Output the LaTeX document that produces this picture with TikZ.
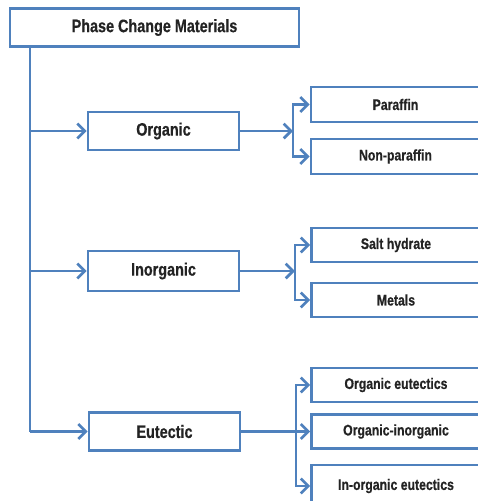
\documentclass[tikz,border=0pt]{standalone}
\usepackage{fontspec}
\newfontfamily\lblfont{Liberation Sans}[FakeStretch=0.8, FakeBold=0.6]
\usetikzlibrary{arrows.meta}
\definecolor{pcmblue}{RGB}{79,129,189}
\definecolor{pcmtext}{RGB}{35,35,35}
\tikzset{
  box/.style={draw=pcmblue, line width=2.2pt, fill=white, rectangle, inner sep=0pt,
    text=pcmtext, font=\lblfont\bfseries\fontsize{13.5pt}{15pt}\selectfont},
  smallbox/.style={box, minimum width=126.75pt, font=\lblfont\bfseries\fontsize{11.5pt}{13pt}\selectfont},
  link/.style={draw=pcmblue, line width=2.2pt},
  arr/.style={link, -{Straight Barb[length=5.5pt,width=11pt,line width=2pt]}},
}
\begin{document}
\begin{tikzpicture}[x=0.75pt,y=-0.75pt]
\useasboundingbox (0,0) rectangle (478,501);
\clip (0,0) rectangle (478,501);
\fill[white] (0,0) rectangle (478,501);
% main boxes
\node[box, minimum width=216.75pt, minimum height=28.5pt] (top) at (154.5,27.5) {Phase Change Materials};
\node[box, minimum width=113.25pt, minimum height=28.5pt] (org) at (163.5,131) {Organic};
\node[box, minimum width=113.25pt, minimum height=30pt] (inorg) at (163.5,271) {Inorganic};
\node[box, minimum width=113.25pt, minimum height=29pt] (eut) at (164.5,431.5) {Eutectic};
% right boxes
\node[smallbox, minimum height=26.25pt] (par) at (395.5,104.5) {Paraffin};
\node[smallbox, minimum height=26.25pt] (npar) at (395.5,156.5) {Non-paraffin};
\node[smallbox, minimum height=25.5pt] (salt) at (396,245) {Salt hydrate};
\node[smallbox, minimum height=25.5pt] (met) at (396,300) {Metals};
\node[smallbox, minimum height=25.5pt] (oe) at (396,385) {Organic eutectics};
\node[smallbox, minimum height=25pt] (oi) at (396,431.5) {Organic-inorganic};
\node[smallbox, minimum height=31.5pt] (ioe) at (396,486) {In-organic eutectics};
% branch coordinates
\coordinate (trunk) at (30,46.5);
\coordinate (b1) at (293,0);
\coordinate (b2) at (295,0);
\coordinate (b3) at (296,0);
% trunk and arrows to level 1
\draw[link] (trunk) -- (trunk |- eut.west);
\draw[arr] (trunk |- org.west) -- (org.west);
\draw[arr] (trunk |- inorg.west) -- (inorg.west);
\draw[arr] (trunk |- eut.west) -- (eut.west);
% organic
\draw[arr] (org.east) -- (b1 |- org.east);
\draw[arr] (b1 |- org.east) |- (par.west);
\draw[arr] (b1 |- org.east) |- (npar.west);
% inorganic
\draw[arr] (inorg.east) -- (b2 |- inorg.east);
\draw[arr] (b2 |- inorg.east) |- (salt.west);
\draw[arr] (b2 |- inorg.east) |- (met.west);
% eutectic
\draw[arr] (eut.east) -- (oi.west);
\draw[arr] (b3 |- eut.east) |- (oe.west);
\draw[arr] (b3 |- eut.east) |- (ioe.west);
\end{tikzpicture}
\end{document}
